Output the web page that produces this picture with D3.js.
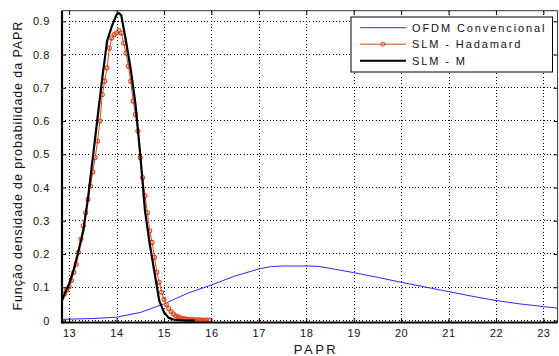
<!DOCTYPE html>
<html>
<head>
<meta charset="utf-8">
<script src="https://cdn.jsdelivr.net/npm/d3@7"></script>
<style>
  body { margin: 0; background: #fff; }
  svg { font-family: "Liberation Sans", Arial, sans-serif; }
  .tick text { font-size: 11px; letter-spacing: 0.6px; fill: #111; }
  .grid line { stroke: #000; stroke-width: 1; stroke-dasharray: 1,2.3; shape-rendering: crispEdges; }
</style>
</head>
<body>
<div id="chart"></div>
<script>
// PAPR axis ticks and y ticks
var xTicks = [13, 14, 15, 16, 17, 18, 19, 20, 21, 22, 23];
var yTicks = [0, 0.1, 0.2, 0.3, 0.4, 0.5, 0.6, 0.7, 0.8, 0.9];

// OFDM Convencional
var ofdmX = [12.85, 13, 13.5, 14, 14.5, 15, 15.5, 16, 16.5, 17, 17.25, 17.5, 18, 18.25, 18.5, 19, 19.5, 20, 20.5, 21, 21.5, 22, 22.5, 23, 23.3];
var ofdmY = [0.003, 0.004, 0.006, 0.010, 0.024, 0.050, 0.082, 0.107, 0.134, 0.155, 0.162, 0.164, 0.164, 0.163, 0.157, 0.144, 0.130, 0.115, 0.101, 0.087, 0.073, 0.060, 0.050, 0.042, 0.037];

// SLM - Hadamard
var hadX = [12.85, 12.9, 12.95, 13, 13.05, 13.1, 13.15, 13.2, 13.25, 13.3, 13.35, 13.4, 13.45, 13.5, 13.55, 13.6, 13.65, 13.7, 13.75, 13.8,
            13.85, 13.9, 13.95, 14, 14.05, 14.1, 14.15, 14.2, 14.25, 14.3, 14.35, 14.4, 14.45, 14.5, 14.55, 14.6, 14.65, 14.7, 14.75, 14.8,
            14.85, 14.9, 14.95, 15, 15.05, 15.1, 15.15, 15.2, 15.25, 15.3, 15.35, 15.4, 15.45, 15.5, 15.55, 15.6, 15.65, 15.7, 15.75, 15.8,
            15.85, 15.9, 15.95];
var hadY = [0.068, 0.080, 0.092, 0.102, 0.120, 0.145, 0.170, 0.205, 0.245, 0.285, 0.325, 0.365, 0.405, 0.447, 0.490, 0.540, 0.600, 0.680, 0.720, 0.760,
            0.820, 0.850, 0.860, 0.865, 0.872, 0.865, 0.835, 0.805, 0.765, 0.720, 0.660, 0.620, 0.570, 0.490, 0.430, 0.375, 0.324, 0.270, 0.235, 0.190,
            0.145, 0.115, 0.085, 0.064, 0.048, 0.036, 0.027, 0.020, 0.014, 0.011, 0.008, 0.006, 0.005, 0.004, 0.003, 0.003, 0.002, 0.002, 0.002, 0.001,
            0.001, 0.001, 0.001];

// SLM - M
var slmX = [12.85, 12.9, 13, 13.1, 13.2, 13.3, 13.4, 13.5, 13.6, 13.7, 13.8, 13.9, 14, 14.05, 14.1, 14.2, 14.3, 14.4, 14.5, 14.6,
            14.7, 14.8, 14.9, 15, 15.1, 15.2, 15.3, 15.4, 15.65];
var slmY = [0.062, 0.078, 0.110, 0.155, 0.210, 0.270, 0.370, 0.490, 0.610, 0.730, 0.840, 0.885, 0.920, 0.925, 0.918, 0.840, 0.755, 0.650, 0.500, 0.330,
            0.230, 0.145, 0.060, 0.025, 0.008, 0.003, 0.001, 0, 0];

var legendNames = ["OFDM Convencional", "SLM - Hadamard", "SLM - M"];
var colors = ["#2a2aff", "#e5441a", "#000000"];

var W = 559, H = 356;
var margin = {top: 10.7, right: 1.4, bottom: 33.5, left: 62};
var width = W - margin.left - margin.right,
    height = H - margin.top - margin.bottom;

var x = d3.scaleLinear().domain([12.85, 23.3]).range([0, width]);
var y = d3.scaleLinear().domain([-0.006, 0.932]).range([height, 0]);

var svg = d3.select("#chart").append("svg")
    .attr("width", W)
    .attr("height", H)
  .append("g")
    .attr("transform", "translate(" + margin.left + "," + margin.top + ")");

svg.append("defs").append("clipPath").attr("id", "clip")
  .append("rect").attr("width", width).attr("height", height);

// grid, snapped to whole pixels so the dots stay dark
svg.append("g").attr("class", "grid")
  .selectAll("line").data(xTicks).enter().append("line")
    .attr("x1", function(d) { return Math.round(x(d)); }).attr("x2", function(d) { return Math.round(x(d)); })
    .attr("y1", 0).attr("y2", height);
svg.append("g").attr("class", "grid")
  .selectAll("line").data(yTicks).enter().append("line")
    .attr("x1", 0).attr("x2", width)
    .attr("y1", function(d) { return Math.round(y(d)); }).attr("y2", function(d) { return Math.round(y(d)); });

// curves
var plot = svg.append("g").attr("clip-path", "url(#clip)");
function pts(xs, ys) { return xs.map(function(v, i) { return [v, ys[i]]; }); }
var line = d3.line()
    .x(function(d) { return x(d[0]); })
    .y(function(d) { return y(d[1]); });

plot.append("path").datum(pts(ofdmX, ofdmY))
    .attr("fill", "none").attr("stroke", colors[0]).attr("stroke-width", 1)
    .attr("d", line);
plot.append("path").datum(pts(hadX, hadY))
    .attr("fill", "none").attr("stroke", colors[1]).attr("stroke-width", 1)
    .attr("d", line);
plot.selectAll(".mk").data(pts(hadX, hadY)).enter().append("circle")
    .attr("class", "mk")
    .attr("cx", function(d) { return x(d[0]); })
    .attr("cy", function(d) { return y(d[1]); })
    .attr("r", 2)
    .attr("fill", "none").attr("stroke", colors[1]).attr("stroke-width", 1.1);
plot.append("path").datum(pts(slmX, slmY))
    .attr("fill", "none").attr("stroke", colors[2]).attr("stroke-width", 2.2)
    .attr("stroke-linejoin", "round")
    .attr("d", line);

// axes (ticks point inward)
var xAxis = d3.axisBottom(x).tickValues(xTicks).tickSizeInner(-4).tickSizeOuter(0).tickPadding(7)
    .tickFormat(d3.format("d"));
var yAxis = d3.axisLeft(y).tickValues(yTicks).tickSizeInner(-4).tickSizeOuter(0).tickPadding(12)
    .tickFormat(function(d) { return d === 0 ? "0" : d.toFixed(1); });

var gx = svg.append("g").attr("transform", "translate(0," + height + ")").call(xAxis);
var gy = svg.append("g").call(yAxis);
gx.select(".domain").remove();
gy.select(".domain").remove();
svg.append("g").call(d3.axisTop(x).tickValues(xTicks).tickSizeInner(-4).tickSizeOuter(0).tickFormat(""))
  .select(".domain").remove();
svg.append("g").attr("transform", "translate(" + width + ",0)")
  .call(d3.axisRight(y).tickValues(yTicks).tickSizeInner(-4).tickSizeOuter(0).tickFormat(""))
  .select(".domain").remove();

// box
svg.append("line").attr("x1", 0).attr("x2", width).attr("y1", 0).attr("y2", 0)
    .attr("stroke", "#333").attr("stroke-width", 1);
svg.append("line").attr("x1", width).attr("x2", width).attr("y1", 0).attr("y2", height)
    .attr("stroke", "#333").attr("stroke-width", 1);
svg.append("line").attr("x1", 0).attr("x2", width).attr("y1", height).attr("y2", height)
    .attr("stroke", "#000").attr("stroke-width", 2.2);
svg.append("line").attr("x1", 0).attr("x2", 0).attr("y1", 0).attr("y2", height + 1)
    .attr("stroke", "#000").attr("stroke-width", 2.2);

// axis labels
svg.append("text")
    .attr("x", 254).attr("y", height + 32)
    .attr("text-anchor", "middle")
    .style("font-size", "13px").style("letter-spacing", "2.5px").style("fill", "#111")
    .text("PAPR");
svg.append("text")
    .attr("transform", "rotate(-90)")
    .attr("x", -(155)).attr("y", -40)
    .attr("text-anchor", "middle")
    .style("font-size", "12.5px").style("letter-spacing", "0.9px").style("fill", "#111")
    .text("Função densidade de probabilidade da PAPR");

// legend
var lg = svg.append("g").attr("transform", "translate(" + (351 - margin.left) + "," + (17 - margin.top) + ")");
lg.append("rect").attr("width", 201.5).attr("height", 55)
    .attr("fill", "#fff").attr("stroke", "#000").attr("stroke-width", 1);
legendNames.forEach(function(name, i) {
    var yy = 10.7 + i * 16.5;
    lg.append("line").attr("x1", 9).attr("x2", 55).attr("y1", yy).attr("y2", yy)
        .attr("stroke", colors[i]).attr("stroke-width", i === 2 ? 2 : 1);
    if (i === 1) {
        lg.append("circle").attr("cx", 32).attr("cy", yy).attr("r", 2)
            .attr("fill", "none").attr("stroke", colors[i]).attr("stroke-width", 1);
    }
    lg.append("text").attr("x", 61).attr("y", yy + 4)
        .style("font-size", "11px").style("letter-spacing", "1.9px").style("fill", "#111")
        .text(name);
});
</script>
</body>
</html>
